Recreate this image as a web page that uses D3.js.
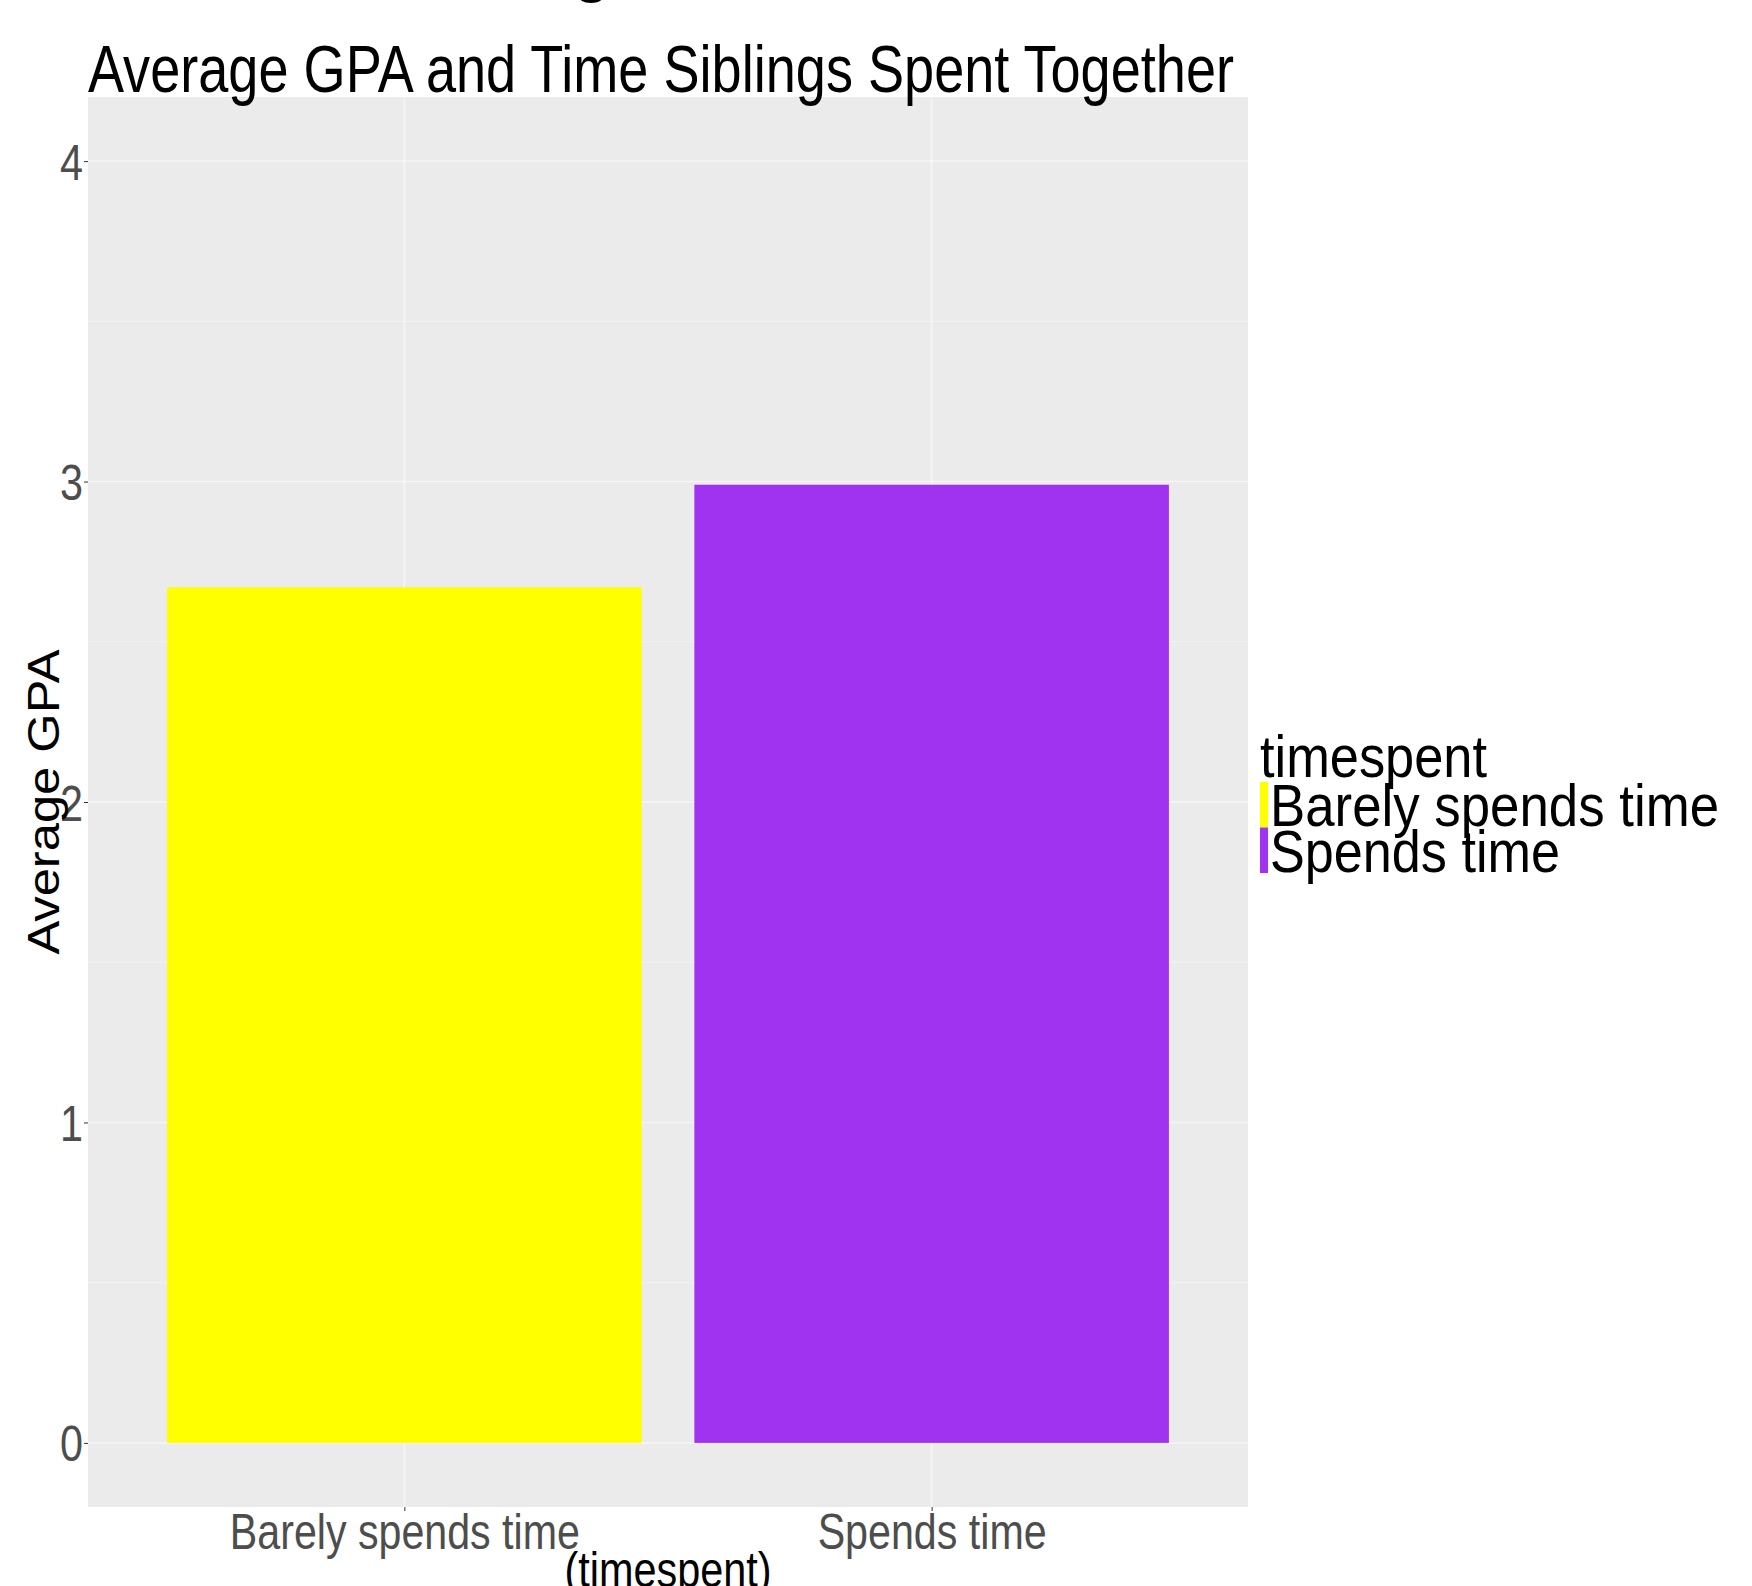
<!DOCTYPE html>
<html>
<head>
<meta charset="utf-8">
<script src="https://cdn.jsdelivr.net/npm/d3@7"></script>
<style>
  body { margin: 0; background: #fff; }
  svg { display: block; font-family: "Liberation Sans", Arial, sans-serif; }
</style>
</head>
<body>
<svg id="drawing_region"></svg>
<script>
// data
const categories = ["Barely spends time", "Spends time"];
const gpaValues = [2.67, 2.99];
const barColors = ["#FFFF00", "#A033F0"];
const yTicks = [0, 1, 2, 3, 4];
const yMinorTicks = [0.5, 1.5, 2.5, 3.5];

const W = 1752, H = 1586;
const panel = { left: 88, right: 1248, top: 97, bottom: 1507 };

const svg = d3.select('#drawing_region')
    .attr('width', W)
    .attr('height', H);

// cut-off heading glyph at the very top
svg.append('text')
    .attr('x', 574)
    .attr('y', -9)
    .attr('font-size', 58)
    .attr('font-weight', 'bold')
    .attr('fill', '#000')
    .text('g');

const xscale = d3.scalePoint()
    .domain(categories)
    .range([panel.left, panel.right])
    .padding(0.6);

const yscale = d3.scaleLinear()
    .domain([-0.2, 4.2])
    .range([panel.bottom, panel.top]);

const barWidth = 0.9 * xscale.step();

// panel background
svg.append('rect')
    .attr('x', panel.left)
    .attr('y', panel.top)
    .attr('width', panel.right - panel.left)
    .attr('height', panel.bottom - panel.top)
    .attr('fill', '#EBEBEB');

// grid
svg.append('g').selectAll('line.minor')
    .data(yMinorTicks)
    .join('line')
    .attr('x1', panel.left).attr('x2', panel.right)
    .attr('y1', d => yscale(d)).attr('y2', d => yscale(d))
    .attr('stroke', '#fff').attr('stroke-opacity', 0.4).attr('stroke-width', 0.9);

svg.append('g').selectAll('line.major')
    .data(yTicks)
    .join('line')
    .attr('x1', panel.left).attr('x2', panel.right)
    .attr('y1', d => yscale(d)).attr('y2', d => yscale(d))
    .attr('stroke', '#fff').attr('stroke-opacity', 0.55).attr('stroke-width', 1.5);

svg.append('g').selectAll('line')
    .data(categories)
    .join('line')
    .attr('x1', d => xscale(d)).attr('x2', d => xscale(d))
    .attr('y1', panel.top).attr('y2', panel.bottom)
    .attr('stroke', '#fff').attr('stroke-opacity', 0.55).attr('stroke-width', 1.5);

// bars
svg.append('g').selectAll('rect')
    .data(categories)
    .join('rect')
    .attr('x', d => xscale(d) - barWidth / 2)
    .attr('width', barWidth)
    .attr('y', (d, i) => yscale(gpaValues[i]))
    .attr('height', (d, i) => yscale(0) - yscale(gpaValues[i]))
    .attr('fill', (d, i) => barColors[i]);

// axes
const yaxis = d3.axisLeft(yscale)
    .tickValues(yTicks)
    .tickSize(4)
    .tickPadding(1)
    .tickFormat(d3.format('d'));

const yaxis_group = svg.append('g')
    .attr('transform', `translate(${panel.left},0)`)
    .call(yaxis);
yaxis_group.select('.domain').remove();
yaxis_group.selectAll('.tick line').attr('stroke', '#333').attr('stroke-width', 1);
yaxis_group.selectAll('text')
    .attr('font-size', 50)
    .attr('font-family', '"Liberation Sans", Arial, sans-serif')
    .attr('fill', '#4D4D4D')
    .attr('dy', '0.36em')
    .attr('textLength', 23)
    .attr('lengthAdjust', 'spacingAndGlyphs');

const xLabelLen = [350, 229];
const xaxis = d3.axisBottom(xscale)
    .tickSize(4)
    .tickPadding(4);

const xaxis_group = svg.append('g')
    .attr('transform', `translate(0,${panel.bottom})`)
    .call(xaxis);
xaxis_group.select('.domain').remove();
xaxis_group.selectAll('.tick line').attr('stroke', '#333').attr('stroke-width', 1);
xaxis_group.selectAll('text')
    .attr('font-size', 50)
    .attr('font-family', '"Liberation Sans", Arial, sans-serif')
    .attr('fill', '#4D4D4D')
    .attr('y', 42)
    .attr('dy', 0)
    .attr('textLength', (d, i) => xLabelLen[i])
    .attr('lengthAdjust', 'spacingAndGlyphs');

// titles
svg.append('text')
    .attr('x', panel.left)
    .attr('y', 92)
    .attr('font-size', 66)
    .attr('fill', '#000')
    .attr('textLength', 1146)
    .attr('lengthAdjust', 'spacingAndGlyphs')
    .text('Average GPA and Time Siblings Spent Together');

svg.append('text')
    .attr('transform', `translate(58.5,${(panel.top + panel.bottom) / 2}) rotate(-90)`)
    .attr('text-anchor', 'middle')
    .attr('font-size', 44)
    .attr('fill', '#000')
    .attr('textLength', 305)
    .attr('lengthAdjust', 'spacingAndGlyphs')
    .text('Average GPA');

svg.append('text')
    .attr('x', (panel.left + panel.right) / 2)
    .attr('y', 1587)
    .attr('text-anchor', 'middle')
    .attr('font-size', 50)
    .attr('fill', '#000')
    .attr('textLength', 207)
    .attr('lengthAdjust', 'spacingAndGlyphs')
    .text('(timespent)');

// legend
const legendLen = [449, 290];
const legend = svg.append('g').attr('transform', 'translate(1260,0)');
legend.append('text')
    .attr('x', 0)
    .attr('y', 777)
    .attr('font-size', 60)
    .attr('fill', '#000')
    .attr('textLength', 227)
    .attr('lengthAdjust', 'spacingAndGlyphs')
    .text('timespent');

const keyTop = 782, keyH = 45.5;
legend.selectAll('rect.key')
    .data(categories)
    .join('rect')
    .attr('x', 0)
    .attr('y', (d, i) => keyTop + i * keyH)
    .attr('width', 8)
    .attr('height', keyH)
    .attr('fill', (d, i) => barColors[i]);

legend.selectAll('text.lab')
    .data(categories)
    .join('text')
    .attr('x', 10)
    .attr('y', (d, i) => 826 + i * keyH)
    .attr('font-size', 60)
    .attr('fill', '#000')
    .attr('textLength', (d, i) => legendLen[i])
    .attr('lengthAdjust', 'spacingAndGlyphs')
    .text(d => d);
</script>
</body>
</html>
